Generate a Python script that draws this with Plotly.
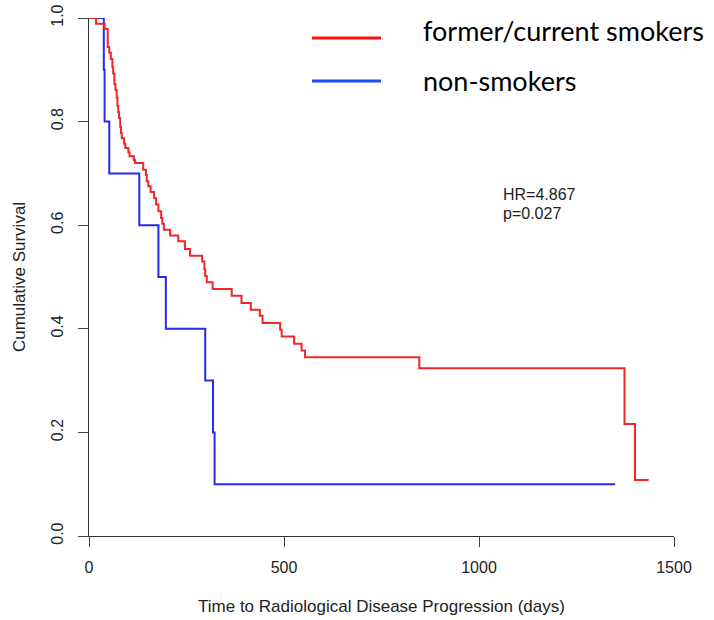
import plotly.graph_objects as go

# Former/current smokers (red) Kaplan-Meier steps: time (days), survival
smk_t = [0, 18, 40, 48, 52, 56, 60, 62, 65, 68, 71, 73, 75, 77, 80, 82, 84, 90, 93,
         101, 104, 115, 118, 139, 146, 148, 152, 158, 167, 172, 178, 185, 188, 192,
         208, 229, 246, 259, 290, 296, 298, 302, 317, 366, 391, 415, 438, 445, 490,
         494, 526, 545, 554, 847, 1373, 1400, 1435]
smk_s = [1.000, 0.989, 0.979, 0.944, 0.933, 0.921, 0.905, 0.893, 0.872, 0.861, 0.846,
         0.830, 0.818, 0.807, 0.790, 0.778, 0.768, 0.757, 0.749, 0.741, 0.733, 0.726,
         0.720, 0.707, 0.697, 0.685, 0.675, 0.664, 0.652, 0.640, 0.627, 0.614, 0.603,
         0.591, 0.580, 0.569, 0.554, 0.541, 0.530, 0.515, 0.502, 0.490, 0.477, 0.464,
         0.450, 0.437, 0.425, 0.411, 0.398, 0.385, 0.371, 0.358, 0.345, 0.324, 0.216,
         0.108, 0.108]

# Non-smokers (blue)
non_t = [0, 38, 40, 52, 129, 178, 197, 298, 318, 322, 1349]
non_s = [1.0, 0.9, 0.8, 0.7, 0.6, 0.5, 0.4, 0.3, 0.2, 0.1, 0.1]

x_ticks = [0, 500, 1000, 1500]
y_ticks = [0.0, 0.2, 0.4, 0.6, 0.8, 1.0]
y_tick_text = ["0.0", "0.2", "0.4", "0.6", "0.8", "1.0"]

legend_labels = ["former/current smokers", "non-smokers"]
stats_lines = ["HR=4.867", "p=0.027"]

RED = "rgb(238,40,40)"
BLUE = "rgb(40,40,238)"

fig = go.Figure()
fig.add_trace(go.Scatter(x=non_t, y=non_s, mode="lines", line=dict(color=BLUE, width=2, shape="hv"),
                         showlegend=False, hoverinfo="skip"))
fig.add_trace(go.Scatter(x=smk_t, y=smk_s, mode="lines", line=dict(color=RED, width=2, shape="hv"),
                         showlegend=False, hoverinfo="skip"))

FAM = "Liberation Sans, Arial, sans-serif"
tick_font = dict(family=FAM, size=16, color="#222")
title_font = dict(family=FAM, size=17, color="#222")

fig.update_layout(
    width=714, height=620,
    margin=dict(l=89, r=40, t=18, b=84),
    paper_bgcolor="white", plot_bgcolor="white",
    font=tick_font,
    xaxis=dict(range=[0, 1500], tickvals=x_ticks, ticks="outside", ticklen=10, tickcolor="#444",
               showline=True, linecolor="#333", linewidth=1, showgrid=False, zeroline=False,
               tickfont=tick_font, automargin=False, ticklabelstandoff=7,
               title=dict(text="Time to Radiological Disease Progression (days)", font=title_font, standoff=24)),
    yaxis=dict(range=[0, 1.0], tickvals=y_ticks, ticktext=y_tick_text, ticks="outside", ticklen=10,
               tickcolor="#444", showline=True, linecolor="#333", linewidth=1, showgrid=False,
               zeroline=False, tickangle=-90, tickfont=tick_font, automargin=False, ticklabelstandoff=9,
               title=dict(text="Cumulative Survival", font=title_font, standoff=18)),
)

# Legend drawn manually (lines + labels)
def px_x(p):
    return (p - 89) / 585.0

def px_y(p):
    return (536 - p) / 518.0

leg_colors = ["#ff1010", "#1a4cff"]
leg_line_y = [38, 81]
leg_text_y = [31, 81]
for col, ly, ty, lab in zip(leg_colors, leg_line_y, leg_text_y, legend_labels):
    fig.add_shape(type="line", xref="paper", yref="paper", x0=px_x(312), x1=px_x(381),
                  y0=px_y(ly), y1=px_y(ly), line=dict(color=col, width=3))
    fig.add_annotation(xref="paper", yref="paper", x=px_x(421), y=px_y(ty), text=lab,
                       showarrow=False, xanchor="left", yanchor="middle",
                       font=dict(family="Lato, sans-serif", size=27, color="black"))

for txt, ty in zip(stats_lines, [194, 213]):
    fig.add_annotation(xref="paper", yref="paper", x=px_x(501), y=px_y(ty), text=txt,
                       showarrow=False, xanchor="left", yanchor="middle", align="left",
                       font=dict(family=FAM, size=16, color="#222"))

fig.write_html("out.html")
